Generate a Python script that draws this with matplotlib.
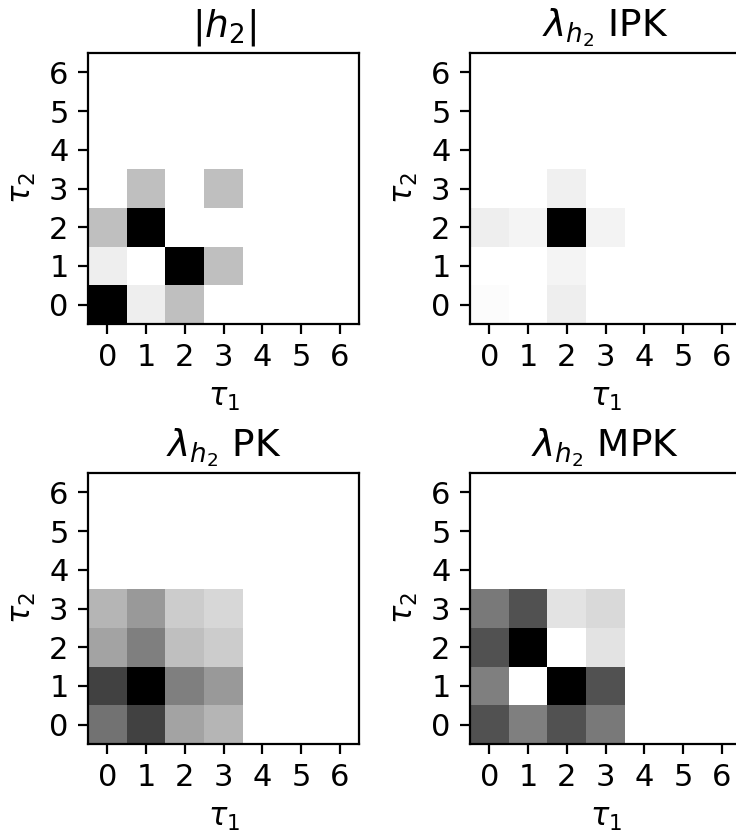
import numpy as np
import matplotlib
matplotlib.use('Agg')
import matplotlib.pyplot as plt

plt.rcParams['font.size'] = 11
plt.rcParams['axes.titlesize'] = 13.5

# Значения ядер (строки - tau2 = 0..6, столбцы - tau1 = 0..6)
h2 = [[1.00, 0.07, 0.25, 0.00, 0, 0, 0],
      [0.07, 0.00, 1.00, 0.25, 0, 0, 0],
      [0.25, 1.00, 0.00, 0.00, 0, 0, 0],
      [0.00, 0.25, 0.00, 0.25, 0, 0, 0],
      [0, 0, 0, 0, 0, 0, 0],
      [0, 0, 0, 0, 0, 0, 0],
      [0, 0, 0, 0, 0, 0, 0]]

ipk = [[0.015, 0.00, 0.067, 0.00, 0, 0, 0],
       [0.00, 0.00, 0.043, 0.00, 0, 0, 0],
       [0.067, 0.043, 1.00, 0.05, 0, 0, 0],
       [0.00, 0.00, 0.06, 0.00, 0, 0, 0],
       [0, 0, 0, 0, 0, 0, 0],
       [0, 0, 0, 0, 0, 0, 0],
       [0, 0, 0, 0, 0, 0, 0]]

pk = [[0.55, 0.74, 0.36, 0.29, 0, 0, 0],
      [0.74, 1.00, 0.50, 0.40, 0, 0, 0],
      [0.36, 0.50, 0.25, 0.20, 0, 0, 0],
      [0.29, 0.40, 0.20, 0.16, 0, 0, 0],
      [0, 0, 0, 0, 0, 0, 0],
      [0, 0, 0, 0, 0, 0, 0],
      [0, 0, 0, 0, 0, 0, 0]]

mpk = [[0.68, 0.50, 0.68, 0.52, 0, 0, 0],
       [0.50, 0.00, 1.00, 0.68, 0, 0, 0],
       [0.68, 1.00, 0.00, 0.11, 0, 0, 0],
       [0.52, 0.68, 0.11, 0.15, 0, 0, 0],
       [0, 0, 0, 0, 0, 0, 0],
       [0, 0, 0, 0, 0, 0, 0],
       [0, 0, 0, 0, 0, 0, 0]]

titles = [r'$|h_2|$', r'$\lambda_{h_2}$ IPK', r'$\lambda_{h_2}$ PK', r'$\lambda_{h_2}$ MPK']
ticks = list(range(7))

fig = plt.figure(figsize=(3.68, 4.17), dpi=200)
pos = [[0.1196, 0.6115], [0.6386, 0.6115], [0.1196, 0.1079], [0.6386, 0.1079]]
w, h = 271 / 736, 271 / 834

for p, m, t in zip(pos, [h2, ipk, pk, mpk], titles):
    ax = fig.add_axes([p[0], p[1], w, h])
    ax.imshow(np.array(m), cmap='gray_r', origin='lower', vmin=0, vmax=1)
    ax.set_xticks(ticks)
    ax.set_yticks(ticks)
    ax.set_xlabel(r'$\tau_1$')
    ax.set_ylabel(r'$\tau_2$')
    ax.set_title(t)

plt.savefig('out.png', dpi=200)
